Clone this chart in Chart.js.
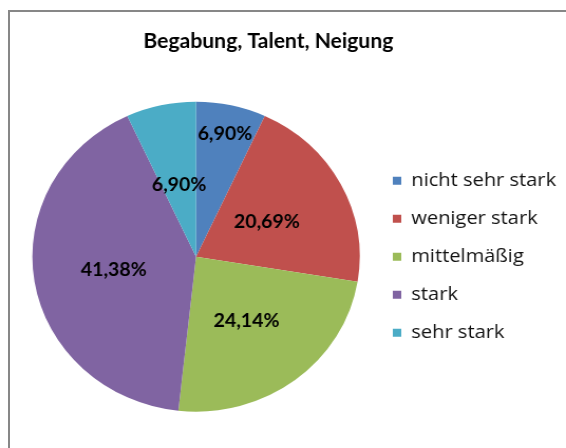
<!DOCTYPE html>
<html lang="de">
<head>
<meta charset="utf-8">
<title>Begabung, Talent, Neigung</title>
<script src="https://cdn.jsdelivr.net/npm/chart.js@4.4.1/dist/chart.umd.min.js"></script>
<style>
  html, body { margin: 0; padding: 0; background: #fff; }
  #rahmen { position: relative; width: 566px; height: 448px; overflow: hidden; background: #fff; }
  #linie {
    position: absolute; left: 8px; top: 10px; width: 700px; height: 600px;
    border-left: 2px solid #878787; border-top: 2px solid #878787;
  }
  #chart { position: absolute; left: 0; top: 0; }
</style>
</head>
<body>
<div id="rahmen">
  <div id="linie"></div>
  <!-- gezeichnet auf 536px Breite und auf 566px gestreckt, wie im Original -->
  <canvas id="chart" width="536" height="448" style="width: 566px; height: 448px;"></canvas>
</div>
<script>
const titel = 'Begabung, Talent, Neigung';
const kategorien = ['nicht sehr stark', 'weniger stark', 'mittelmäßig', 'stark', 'sehr stark'];
const anteile = [6.90, 20.69, 24.14, 41.38, 6.90];
const farben = ['#4F81BD', '#C0504D', '#9BBB59', '#8064A2', '#4BACC6'];

// wie weit die Beschriftung vom Mittelpunkt weg sitzt (Anteil vom Radius)
const labelAbstand = [0.82, 0.49, 0.51, 0.51, 0.48];

const prozentLabels = {
  id: 'prozentLabels',
  afterLayout(chart) {
    // Titel sitzt im Original etwas links von der Mitte
    chart.titleBlock.right -= 43;
  },
  afterDatasetsDraw(chart) {
    const ctx = chart.ctx;
    const meta = chart.getDatasetMeta(0);
    ctx.save();
    ctx.font = 'bold 18.5px Lato';
    ctx.fillStyle = '#000';
    ctx.textAlign = 'center';
    ctx.textBaseline = 'middle';
    meta.data.forEach((arc, i) => {
      const p = arc.getProps(['x', 'y', 'startAngle', 'endAngle', 'outerRadius'], true);
      const mitte = (p.startAngle + p.endAngle) / 2;
      const r = p.outerRadius * labelAbstand[i];
      const text = anteile[i].toFixed(2).replace('.', ',') + '%';
      ctx.fillText(text, p.x + Math.cos(mitte) * r, p.y + Math.sin(mitte) * r + 1);
    });
    ctx.restore();
  }
};

const ctx = document.getElementById('chart').getContext('2d');
window.myChart = new Chart(ctx, {
  type: 'pie',
  data: {
    labels: kategorien,
    datasets: [{
      data: anteile,
      backgroundColor: farben,
      borderWidth: 0
    }]
  },
  options: {
    responsive: false,
    devicePixelRatio: 1,
    animation: false,
    layout: {
      padding: { left: 18.3, right: 3, top: 0, bottom: 36.3 }
    },
    plugins: {
      title: {
        display: true,
        text: titel,
        color: '#000',
        font: { family: 'Lato', size: 20, weight: 'bold', lineHeight: 1.2 },
        padding: { top: 30, bottom: 47.7 }
      },
      legend: {
        position: 'right',
        fullSize: false,
        maxWidth: 180,
        labels: {
          boxWidth: 8,
          boxHeight: 8,
          padding: 19,
          color: '#111',
          font: { family: 'Open Sans', size: 19 }
        }
      },
      tooltip: { enabled: false }
    }
  },
  plugins: [prozentLabels]
});
</script>
</body>
</html>
